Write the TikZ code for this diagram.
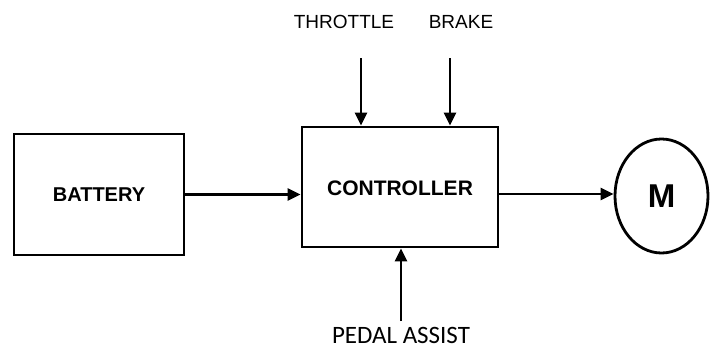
\documentclass[tikz,border=0pt]{standalone}
\usepackage{fontspec}
\setmainfont{Liberation Sans}
\newfontfamily\carlito{Carlito}
\usetikzlibrary{arrows.meta,shapes.geometric}
\begin{document}
\begin{tikzpicture}[x=1pt,y=-1pt,
  blk/.style={draw,line width=2.8pt,inner sep=0pt},
  arr/.style={line width=2.8pt,-{Triangle[length=13pt,width=12pt]}},
  lbl/.style={inner sep=0pt,font=\fontsize{19}{19}\selectfont}]
\useasboundingbox (0,0) rectangle (710,351);
\node[blk,minimum width=170pt,minimum height=121pt,font=\bfseries\fontsize{20}{20}\selectfont] (batt) at (99,194.5) {BATTERY};
\node[blk,minimum width=196pt,minimum height=120pt] (ctrl) at (400,187) {};
\node[inner sep=0pt,font=\bfseries\fontsize{21}{21}\selectfont] (ctrltxt) at (400,188) {CONTROLLER};
\node[blk,ellipse,minimum width=93pt,minimum height=114pt,font=\bfseries\fontsize{33}{33}\selectfont] (m) at (661.5,196) {M};
\node[lbl] (thr) at (344,22) {THROTTLE};
\node[lbl] (brk) at (461,22) {BRAKE};
\node[inner sep=0pt,font=\carlito\fontsize{25}{25}\selectfont] (ped) at (401,335) {PEDAL ASSIST};
\coordinate (t1) at (361,58);
\coordinate (b1) at (450,58);
\coordinate (p1) at (401,321);
\coordinate (mid) at (0,194);
\draw[arr] (batt.east) -- (batt.east -| ctrl.west);
\draw[arr] (t1) -- (t1 |- ctrl.north);
\draw[arr] (b1) -- (b1 |- ctrl.north);
\draw[arr] (p1) -- (p1 |- ctrl.south);
\draw[arr] (ctrl.east |- mid) -- (m.west |- mid);
\end{tikzpicture}
\end{document}
